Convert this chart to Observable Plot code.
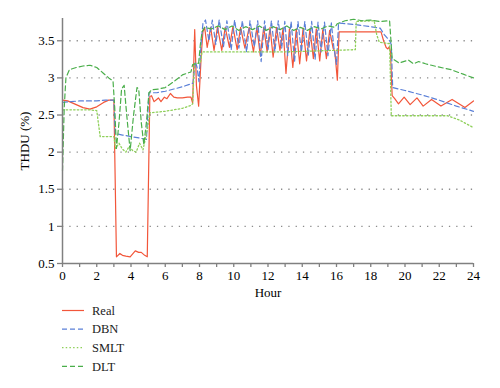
<!DOCTYPE html>
<html>
<head>
<meta charset="utf-8">
<script src="https://cdn.jsdelivr.net/npm/d3@7"></script>
<script src="https://cdn.jsdelivr.net/npm/@observablehq/plot@0.6"></script>
<style>
  html, body { margin: 0; padding: 0; background: #fff; }
  #wrap { position: relative; width: 500px; height: 388px; font-family: "Liberation Serif", "DejaVu Serif", serif; }
  #wrap svg, #wrap svg text { font-family: "Liberation Serif", "DejaVu Serif", serif !important; }
  #legend { position: absolute; left: 0; top: 300px; }
  g[aria-label="x-axis tick"] path, g[aria-label="y-axis tick"] path { stroke: #808080; stroke-width: 1.3; }
</style>
</head>
<body>
<div id="wrap"><div id="chart"></div><div id="legend"></div></div>
<script>
// ---- data (hour, THDU %) ----
const real = [
  [0,2.70],[0.3,2.69],[0.8,2.64],[1.2,2.60],[1.6,2.58],[2.0,2.61],[2.4,2.67],[2.7,2.70],[3.0,2.70],
  [3.15,0.59],[3.35,0.635],[3.5,0.61],[3.7,0.60],[3.95,0.59],[4.1,0.63],[4.25,0.67],[4.45,0.65],[4.6,0.65],[4.8,0.61],[4.95,0.59],
  [5.1,2.75],[5.2,2.76],[5.35,2.68],[5.5,2.71],[5.6,2.73],[5.75,2.68],[5.95,2.74],[6.1,2.72],[6.3,2.79],[6.5,2.74],[6.7,2.73],
  [7.0,2.73],[7.3,2.74],[7.5,2.74],[7.6,2.66],[7.72,3.65],[7.82,2.90],[7.95,2.62],[8.1,3.30],[8.2,3.62],[8.3,3.68],
  [8.45,3.41],[8.65,3.68],[8.85,3.37],[9.05,3.69],[9.3,3.37],[9.5,3.68],[9.75,3.41],[9.95,3.69],[10.2,3.38],[10.4,3.68],
  [10.65,3.40],[10.9,3.68],[11.15,3.35],[11.35,3.68],[11.55,3.30],[11.75,3.68],[11.95,3.35],[12.12,3.68],[12.3,3.28],[12.5,3.68],
  [12.7,3.37],[12.88,3.67],[13.05,3.06],[13.25,3.66],[13.45,3.14],[13.65,3.66],[13.85,3.19],[14.05,3.67],[14.25,3.23],[14.45,3.66],
  [14.65,3.26],[14.82,3.66],[15.02,3.23],[15.2,3.65],[15.41,3.26],[15.6,3.64],[15.8,3.40],[15.9,3.36],[16.05,2.97],[16.15,3.62],
  [17,3.62],[18,3.62],[18.6,3.62],[18.75,3.50],[18.9,3.41],[19.0,3.39],[19.08,3.42],[19.15,3.36],[19.25,2.76],[19.4,2.72],
  [19.62,2.65],[19.95,2.74],[20.3,2.64],[20.7,2.73],[21.06,2.62],[21.55,2.71],[22.1,2.62],[22.75,2.71],[23.5,2.60],[24,2.69]
];
const dbn = [
  [0,2.67],[0.5,2.68],[1,2.69],[2,2.69],[2.5,2.70],[3.0,2.70],[3.08,2.25],[3.5,2.23],[4.0,2.21],[4.5,2.19],[4.9,2.17],
  [5.05,2.80],[5.5,2.80],[6.0,2.82],[6.5,2.85],[7.0,2.88],[7.5,2.92],[7.62,2.93],[7.75,3.22],[7.85,3.15],[7.97,2.95],[8.1,3.50],[8.2,3.73],
  [8.35,3.78],[8.55,3.50],[8.75,3.78],[8.95,3.45],[9.15,3.78],[9.4,3.42],[9.6,3.77],[9.85,3.38],[10.05,3.78],[10.3,3.40],
  [10.5,3.77],[10.75,3.35],[10.95,3.77],[11.2,3.42],[11.4,3.77],[11.6,3.22],[11.8,3.77],[12.0,3.38],[12.2,3.77],[12.4,3.35],
  [12.6,3.77],[12.8,3.40],[12.98,3.76],[13.15,3.30],[13.35,3.76],[13.55,3.22],[13.75,3.76],[13.95,3.35],[14.15,3.76],[14.35,3.30],
  [14.55,3.76],[14.75,3.25],[14.92,3.75],[15.1,3.35],[15.3,3.75],[15.5,3.30],[15.7,3.74],[15.85,3.40],[16.0,3.18],[16.12,3.74],
  [17,3.72],[18,3.69],[18.55,3.67],[18.8,3.58],[19.1,3.50],[19.2,3.45],[19.28,2.87],[20,2.83],[21,2.77],[22,2.70],[23,2.62],[24,2.55]
];
const smlt = [
  [0,2.57],[0.5,2.57],[1.5,2.57],[2.0,2.56],[2.2,2.21],[2.6,2.21],[3.0,2.21],[3.1,2.05],[3.3,2.12],[3.5,2.04],[3.7,2.00],
  [3.9,2.08],[4.1,2.02],[4.3,2.00],[4.5,2.12],[4.7,2.03],[4.95,2.30],[5.1,2.53],[6,2.55],[7,2.59],[7.5,2.63],[7.6,2.65],
  [7.7,3.19],[8.05,3.20],[8.15,3.35],[13,3.35],[17.1,3.38],[17.15,3.76],[18.2,3.77],[18.35,3.58],[18.5,3.48],[19.1,3.46],
  [19.2,2.49],[22.5,2.49],[23.2,2.43],[24,2.33]
];
const dlt = [
  [0,1.75],[0.1,2.60],[0.2,3.00],[0.4,3.11],[0.8,3.14],[1.2,3.16],[1.6,3.17],[2.0,3.14],[2.4,3.06],[2.7,3.00],[2.95,2.96],
  [3.05,2.60],[3.15,2.05],[3.3,2.40],[3.45,2.85],[3.6,2.90],[3.75,2.50],[3.95,2.02],[4.15,2.50],[4.35,2.87],[4.45,2.85],
  [4.6,2.40],[4.75,2.10],[4.9,2.40],[5.05,2.80],[5.2,2.84],[5.6,2.85],[6.0,2.87],[6.5,2.95],[7.0,3.04],[7.5,3.08],[7.6,3.18],
  [7.95,3.20],[8.05,3.45],[8.15,3.62],[8.3,3.68],[8.7,3.66],[9.1,3.70],[9.5,3.65],[9.9,3.70],[10.3,3.64],[10.7,3.69],
  [11.1,3.65],[11.5,3.70],[11.9,3.64],[12.3,3.69],[12.7,3.65],[13.1,3.70],[13.5,3.64],[13.9,3.68],[14.3,3.64],[14.7,3.69],
  [15.1,3.66],[15.5,3.70],[15.9,3.68],[16.05,3.73],[16.5,3.77],[17,3.79],[17.5,3.77],[18,3.78],[18.5,3.76],[19.1,3.77],
  [19.25,3.26],[19.65,3.20],[20.2,3.24],[20.5,3.19],[20.8,3.22],[21.2,3.19],[21.9,3.15],[22.7,3.11],[23.4,3.05],[24,3.00]
];
const yTicks = [0.5, 1, 1.5, 2, 2.5, 3, 3.5];
const gridValues = [1, 1.5, 2, 2.5, 3, 3.5];
const xTicks = d3.range(0, 25, 1);

const series = [
  {name: "Real", data: real, stroke: "#f2563a", dash: null, width: 1.2},
  {name: "DBN", data: dbn, stroke: "#5b80d8", dash: "5,3", width: 1.2},
  {name: "SMLT", data: smlt, stroke: "#8fd05a", dash: "1.5,2.2", width: 1.3},
  {name: "DLT", data: dlt, stroke: "#4aae4a", dash: "5,3", width: 1.2}
];

const fontSize = 12.5;
const chart = Plot.plot({
  width: 500,
  height: 300,
  marginLeft: 62,
  marginRight: 27,
  marginTop: 18,
  marginBottom: 37,
  style: {fontFamily: "'Liberation Serif', 'DejaVu Serif', serif", fontSize: fontSize + "px", color: "#000", background: "#fff"},
  x: {domain: [0, 24]},
  y: {domain: [0.5, 3.8]},
  marks: [
    Plot.ruleY(gridValues, {stroke: "#8c8c8c", strokeWidth: 1.3, strokeDasharray: "1.3,6", strokeLinecap: "butt"}),
    ...series.map(s => Plot.line(s.data, {
      x: d => d[0], y: d => d[1],
      stroke: s.stroke, strokeWidth: s.width,
      strokeDasharray: s.dash, curve: "linear"
    })),
    Plot.ruleY([0.5], {stroke: "#808080", strokeWidth: 1.5}),
    Plot.ruleX([0], {y1: 0.5, y2: 3.8, stroke: "#808080", strokeWidth: 1.5}),
    Plot.axisX({ticks: xTicks, tickFormat: d => d % 2 === 0 ? String(d) : "", tickSize: 4, tickPadding: 3,
      label: "Hour", labelAnchor: "center", labelArrow: "none", labelOffset: 33, fontSize: 13}),
    Plot.axisY({ticks: yTicks, tickFormat: d => String(d), tickSize: 5, tickPadding: 3,
      label: "THDU (%)", labelAnchor: "center", labelArrow: "none", labelOffset: 43, fontSize: 13})
  ]
});
document.getElementById("chart").appendChild(chart);

// ---- legend (below the plot) ----
const leg = d3.select("#legend").append("svg").attr("width", 500).attr("height", 88)
  .style("font-family", "'Liberation Serif', 'DejaVu Serif', serif");
series.forEach((s, i) => {
  const cy = 10.5 + i * 18.6;
  leg.append("line").attr("x1", 62).attr("x2", 84).attr("y1", cy).attr("y2", cy)
    .attr("stroke", s.stroke).attr("stroke-width", s.width)
    .attr("stroke-dasharray", s.dash);
  leg.append("text").attr("x", 92).attr("y", cy).attr("dy", "0.35em")
    .attr("font-size", "12.5px").attr("fill", "#222").text(s.name);
});
</script>
</body>
</html>
